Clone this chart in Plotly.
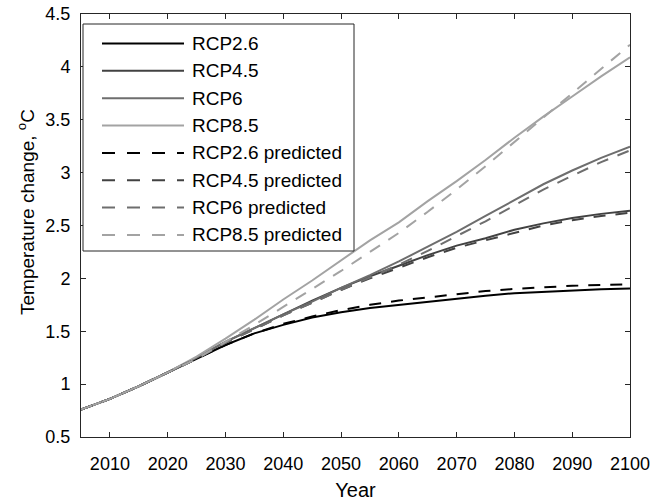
import plotly.graph_objects as go

years = [2005, 2010, 2015, 2020, 2025, 2030, 2035, 2040, 2045, 2050,
         2055, 2060, 2065, 2070, 2075, 2080, 2085, 2090, 2095, 2100]

rcp26 = [0.76, 0.86, 0.98, 1.11, 1.24, 1.37, 1.48, 1.56, 1.63, 1.68,
         1.72, 1.75, 1.78, 1.81, 1.835, 1.86, 1.875, 1.89, 1.898, 1.905]
rcp45 = [0.76, 0.86, 0.98, 1.11, 1.25, 1.40, 1.53, 1.66, 1.79, 1.91,
         2.02, 2.12, 2.22, 2.31, 2.38, 2.46, 2.52, 2.57, 2.61, 2.64]
rcp6 = [0.76, 0.86, 0.98, 1.11, 1.25, 1.40, 1.53, 1.66, 1.78, 1.91,
        2.03, 2.16, 2.30, 2.44, 2.59, 2.74, 2.89, 3.02, 3.14, 3.245]
rcp85 = [0.76, 0.86, 0.98, 1.11, 1.26, 1.43, 1.61, 1.80, 1.98, 2.17,
         2.36, 2.53, 2.73, 2.92, 3.12, 3.33, 3.53, 3.72, 3.91, 4.09]

rcp26_pred = [0.76, 0.86, 0.98, 1.11, 1.24, 1.37, 1.48, 1.57, 1.64, 1.70,
              1.75, 1.79, 1.82, 1.85, 1.88, 1.90, 1.915, 1.93, 1.937, 1.944]
rcp45_pred = [0.76, 0.86, 0.98, 1.11, 1.24, 1.39, 1.52, 1.65, 1.77, 1.89,
              2.00, 2.10, 2.20, 2.29, 2.36, 2.43, 2.50, 2.55, 2.59, 2.62]
rcp6_pred = [0.76, 0.86, 0.98, 1.11, 1.24, 1.39, 1.52, 1.65, 1.77, 1.89,
             2.01, 2.13, 2.26, 2.40, 2.54, 2.69, 2.84, 2.97, 3.10, 3.21]
rcp85_pred = [0.76, 0.86, 0.98, 1.11, 1.24, 1.40, 1.56, 1.73, 1.90, 2.07,
              2.25, 2.43, 2.63, 2.84, 3.06, 3.29, 3.52, 3.75, 3.98, 4.21]

names = ["RCP2.6", "RCP4.5", "RCP6", "RCP8.5"]
solid_series = [rcp26, rcp45, rcp6, rcp85]
pred_series = [rcp26_pred, rcp45_pred, rcp6_pred, rcp85_pred]
colors = ["#000000", "#424242", "#6e6e6e", "#a3a3a3"]

FONT = "Liberation Sans, Arial, sans-serif"
W, H = 652, 502
ML, MR, MT, MB = 81, 22, 14, 65
PW, PH = W - ML - MR, H - MT - MB


def px_x(p):
    return (p - ML) / PW


def px_y(p):
    return (H - MB - p) / PH


fig = go.Figure()
for n, s, c in zip(names, solid_series, colors):
    fig.add_trace(go.Scatter(x=years, y=s, mode="lines", name=n,
                             line=dict(color=c, width=2), showlegend=False))
for n, s, c in zip(names, pred_series, colors):
    fig.add_trace(go.Scatter(x=years, y=s, mode="lines", name=n + " predicted",
                             line=dict(color=c, width=2, dash="12px,10px"),
                             showlegend=False))

# legend box drawn by hand so the sample lines can be long like the original
legend_entries = [(n, c, "solid") for n, c in zip(names, colors)] + \
                 [(n + " predicted", c, "13px,12px") for n, c in zip(names, colors)]
shapes = [dict(type="rect", xref="paper", yref="paper",
               x0=px_x(83), x1=px_x(354), y0=px_y(251), y1=px_y(24),
               line=dict(color="#262626", width=1), fillcolor="white", layer="above")]
annotations = []
for i, (label, c, d) in enumerate(legend_entries):
    yc = 43.5 + i * 27.35
    shapes.append(dict(type="line", xref="paper", yref="paper",
                       x0=px_x(102), x1=px_x(184), y0=px_y(yc), y1=px_y(yc),
                       line=dict(color=c, width=2, dash=d), layer="above"))
    annotations.append(dict(text=label, xref="paper", yref="paper",
                            x=px_x(190), y=px_y(yc), xanchor="left", yanchor="middle",
                            showarrow=False, font=dict(family=FONT, size=19, color="black")))

annotations.append(dict(text="Temperature change, <sup>o</sup>C", xref="paper", yref="paper",
                        x=px_x(26), y=px_y(212), xanchor="center", yanchor="middle",
                        textangle=-90, showarrow=False,
                        font=dict(family=FONT, size=19, color="black")))

axis_common = dict(showline=True, linecolor="#262626", linewidth=1,
                   mirror="ticks", ticks="inside", ticklen=5, tickwidth=1,
                   tickcolor="#262626", showgrid=False, zeroline=False,
                   automargin=False,
                   tickfont=dict(family=FONT, size=18, color="black"))

fig.update_layout(
    width=W, height=H,
    margin=dict(l=ML, r=MR, t=MT, b=MB),
    paper_bgcolor="white", plot_bgcolor="white",
    font=dict(family=FONT, size=18, color="black"),
    xaxis=dict(range=[2005, 2100], tick0=2010, dtick=10, ticklabelstandoff=10,
               title=dict(text="Year", font=dict(family=FONT, size=20), standoff=10),
               **axis_common),
    yaxis=dict(range=[0.5, 4.5], tick0=0.5, dtick=0.5, ticklabelstandoff=6,
               **axis_common),
    shapes=shapes,
    annotations=annotations,
    showlegend=False,
)

fig.write_html("out.html")
